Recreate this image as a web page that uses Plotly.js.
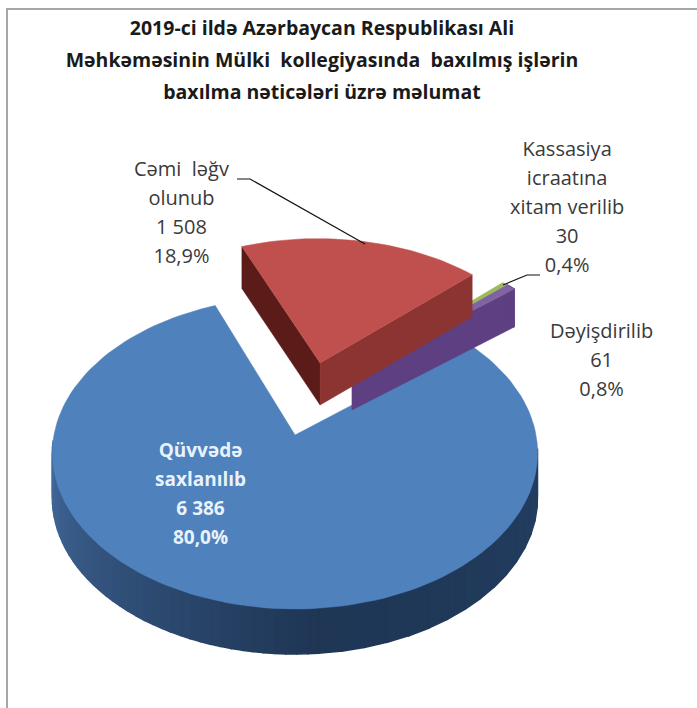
<!DOCTYPE html>
<html>
<head>
<meta charset="utf-8">
<script src="https://cdn.plot.ly/plotly-3.0.1.min.js"></script>
<style>html,body{margin:0;padding:0;background:#fff}</style>
</head>
<body>
<div id="chart" style="width:697px;height:708px"></div>
<script>
// ---- data ----
const categories = ["Qüvvədə saxlanılıb", "Cəmi ləğv olunub", "Kassasiya icraatına xitam verilib", "Dəyişdirilib"];
const values = [6386, 1508, 30, 61];
const valueLabels = ["6 386", "1 508", "30", "61"];
const percentLabels = ["80,0%", "18,9%", "0,4%", "0,8%"];
const titleLines = ["2019-ci ildə Azərbaycan Respublikası Ali", "Məhkəməsinin Mülki  kollegiyasında  baxılmış işlərin", "baxılma nəticələri üzrə məlumat"];

// ---- styles & layout ----
const topColors = ["#4f81bd", "#c0504d", "#9bbb59", "#8064a2"];
const edgeColors = ["#2a4a70", "#8c3431", "#6f8a3a", "#5d3f82"];
const darkEdgeColors = ["#1f3a5c", "#5a1b19", "#55702a", "#4a3170"];
const cfg = {cx: 295, cy: 435, rx: 241, ry: 154, k: 0.115, firstAngle: -21.5};
const depths = [45, 42, 38, 38];
// explode offsets in unit-disk coordinates [u, v]
const explode = [[0, 0], [0.11, 0.494], [0.248, 0.429], [0.248, 0.429]];

function project(u, v) {
  const d = 1 + cfg.k * v;
  return [cfg.cx + cfg.rx * u / d, cfg.cy - cfg.ry * v / d];
}
const total = values.reduce((a, b) => a + b, 0);
// slices run clockwise; angles in degrees from "up"
const order = [1, 2, 3, 0];
const angles = {};
let acc = cfg.firstAngle;
order.forEach(i => { const s = acc; acc += values[i] / total * 360; angles[i] = [s, acc]; });

function rimPoint(i, a) {
  const t = a * Math.PI / 180;
  return project(Math.sin(t) + explode[i][0], Math.cos(t) + explode[i][1]);
}
function apex(i) { return project(explode[i][0], explode[i][1]); }
function arc(i, a0, a1) {
  const n = Math.max(2, Math.ceil(Math.abs(a1 - a0) / 2));
  const pts = [];
  for (let j = 0; j <= n; j++) pts.push(rimPoint(i, a0 + (a1 - a0) * j / n));
  return pts;
}
function poly(pts, color, w) {
  return {type: "scatter", mode: "lines", x: pts.map(p => p[0]).concat(pts[0][0]), y: pts.map(p => p[1]).concat(pts[0][1]),
    fill: "toself", fillcolor: color, line: {width: w === undefined ? 0.5 : w, color: color}, hoverinfo: "skip", showlegend: false};
}
const down = (p, dz) => [p[0], p[1] + dz];
function mix(a, b, t) {
  const pa = [1, 3, 5].map(s => parseInt(a.substr(s, 2), 16)), pb = [1, 3, 5].map(s => parseInt(b.substr(s, 2), 16));
  return "rgb(" + pa.map((v, k) => Math.round(v + (pb[k] - v) * t)).join(",") + ")";
}
function rimBands(i, a0, a1, c0, c1, steps) {
  const out = [];
  for (let s = 0; s < steps; s++) {
    const b0 = a0 + (a1 - a0) * s / steps, b1 = a0 + (a1 - a0) * (s + 1) / steps;
    const top = arc(i, b0, b1);
    out.push(poly(top.concat(top.slice().reverse().map(p => down(p, depths[i]))), mix(c0, c1, s / Math.max(1, steps - 1)), 1.5));
  }
  return out;
}
function topFace(i) { return [apex(i)].concat(arc(i, angles[i][0], angles[i][1])); }
function cutFace(i, a, color) {
  const A = apex(i), R = rimPoint(i, a);
  return poly([A, R, down(R, depths[i]), down(A, depths[i])], color);
}

const traces = [];
// blue slice: rim (shaded from right to left along the front), then the top face
traces.push(...rimBands(0, 95, 175, "#223e60", "#1f3655", 16));
traces.push(...rimBands(0, 175, 268, "#1f3655", "#42699b", 40));
traces.push(poly(topFace(0), topColors[0]));
// purple
traces.push(cutFace(3, angles[3][1], edgeColors[3]));
traces.push(...rimBands(3, angles[3][0], angles[3][1], edgeColors[3], edgeColors[3], 2));
traces.push(poly(topFace(3), topColors[3]));
// green
traces.push(poly(topFace(2), topColors[2]));
// red
traces.push(cutFace(1, angles[1][0], darkEdgeColors[1]));
traces.push(cutFace(1, angles[1][1], edgeColors[1]));
traces.push(poly(topFace(1), topColors[1]));
// leader lines
const leaderX = [[237, 250, 365], [503, 527, 540]];
const leaderY = [[179, 179, 244], [285, 275, 275]];
leaderX.forEach((x, i) => traces.push({type: "scatter", mode: "lines", x, y: leaderY[i], line: {color: "#111", width: 1.2}, hoverinfo: "skip", showlegend: false}));

// ---- text ----
const lineBase = 22.3;
function lines(arr, px, bold) {
  return arr.map(t => `<span style="font-size:${px}px">${bold ? "<b>" + t + "</b>" : t}</span>`).join("<br>");
}
function label(x, y, arr, color, bold, px) {
  return {x, y, xref: "x", yref: "y", xanchor: "center", yanchor: "middle", showarrow: false, align: "center",
    text: lines(arr, px, bold), font: {family: "Open Sans, sans-serif", size: lineBase, color}};
}
const annotations = [
  label(181, 212, ["Cəmi  ləğv", "olunub", valueLabels[1], percentLabels[1]], "#3a3a3a", false, 20),
  label(567, 206, ["Kassasiya", "icraatına", "xitam verilib", valueLabels[2], percentLabels[2]], "#3a3a3a", false, 20),
  label(601, 359, ["Dəyişdirilib", valueLabels[3], percentLabels[3]], "#3a3a3a", false, 20),
  label(200, 493, ["Qüvvədə", "saxlanılıb", valueLabels[0], percentLabels[0]], "#e8f2fb", true, 19)
];

const layout = {
  width: 697, height: 708, margin: {l: 0, r: 0, t: 0, b: 0},
  paper_bgcolor: "#ffffff", plot_bgcolor: "#ffffff", showlegend: false,
  xaxis: {range: [0, 697], visible: false, fixedrange: true},
  yaxis: {range: [708, 0], visible: false, fixedrange: true},
  title: {text: lines(titleLines, 19.5, true), x: 0.462, xanchor: "center", y: 0.95, yanchor: "top", font: {family: "Open Sans, sans-serif", size: 24.6, color: "#1a1a1a"}},
  annotations,
  shapes: [
    {type: "line", xref: "x", yref: "y", x0: 7, x1: 697, y0: 9, y1: 9, line: {color: "#a6a6a6", width: 2}},
    {type: "line", xref: "x", yref: "y", x0: 7, x1: 7, y0: 8, y1: 708, line: {color: "#a6a6a6", width: 2}}
  ]
};
Plotly.newPlot("chart", traces, layout, {displayModeBar: false, staticPlot: true});
</script>
</body>
</html>
